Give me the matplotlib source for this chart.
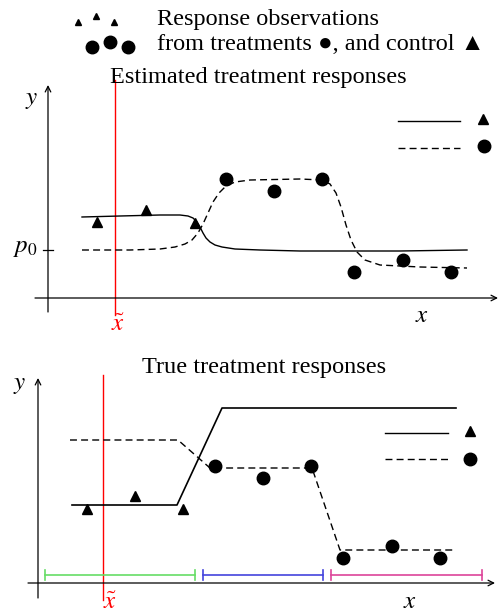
import matplotlib
matplotlib.use("Agg")
import matplotlib.pyplot as plt

plt.rcParams['font.family'] = ['Liberation Serif', 'DejaVu Serif']
plt.rcParams['mathtext.fontset'] = 'stix'

# Top panel (estimated) data, in canvas units
est_tri_x = [97, 146, 195]; est_tri_y = [222, 210, 223]
est_circ_x = [226, 274, 322, 354, 403, 451]; est_circ_y = [179, 191, 179, 272, 260, 272]
est_solid_x = [82, 120, 160, 180, 188, 193, 197, 200, 203, 206, 210, 215, 222, 235, 260, 300, 400, 467]
est_solid_y = [217, 216, 215, 215, 216, 218, 222, 227, 233, 238, 242, 245, 247, 249, 250, 251, 251, 250]
est_dash_x = [82, 130, 160, 175, 185, 192, 198, 203, 208, 213, 219, 226, 235, 250, 300, 322, 330, 336, 341, 346, 351, 357, 365, 380, 420, 467]
est_dash_y = [250, 250, 249, 247, 244, 240, 233, 224, 213, 202, 193, 186, 182, 180, 179, 180, 184, 193, 207, 225, 240, 252, 260, 265, 267, 268]

# Bottom panel (true) data
true_tri_x = [87, 135, 183]; true_tri_y = [509, 496, 509]
true_circ_x = [215, 263, 311, 343, 392, 440]; true_circ_y = [466, 478, 466, 558, 546, 558]
true_solid_x = [72, 177, 222, 456]; true_solid_y = [505, 505, 408, 408]
true_dash_x = [70, 178, 210, 312, 340, 455]; true_dash_y = [440, 440, 468, 468, 550, 550]
intervals = [(45, 195, '#66dd66'), (203, 323, '#4444dd'), (331, 482, '#dd4499')]

fig = plt.figure(figsize=(5.04, 6.13), dpi=100)
ax = fig.add_axes([0, 0, 1, 1])
ax.set_xlim(0, 504); ax.set_ylim(613, 0); ax.axis('off')

def arrow(x0, y0, x1, y1):
    ax.annotate('', xy=(x1, y1), xytext=(x0, y0),
                arrowprops=dict(arrowstyle='->', lw=0.9, color='black', shrinkA=0, shrinkB=0))

tri = dict(marker='^', color='black', ms=7, ls='none')
circ = dict(marker='o', color='black', ms=9, ls='none')

# Header legend
ax.plot([78, 96, 114], [22, 16, 22], marker='^', color='black', ms=5, ls='none')
ax.plot([92, 110, 128], [47, 42, 47], marker='o', color='black', ms=9, ls='none')
ax.text(157, 20, 'Response observations', fontsize=17.5, va='center')
ax.text(157, 44, 'from treatments \u25cf, and control \u25b2', fontsize=17.5, va='center',
        family=['Liberation Serif', 'DejaVu Sans'])

# Top panel
ax.text(258, 77, 'Estimated treatment responses', fontsize=17.5, ha='center', va='center')
arrow(48, 312, 48, 85)
arrow(35, 298, 498, 298)
ax.plot([115, 115], [80, 315], color='red', lw=1)
ax.text(118, 325, r'$\tilde{x}$', color='red', fontsize=18, ha='center', va='center')
ax.text(422, 316, r'$x$', fontsize=18, ha='center', va='center')
ax.text(32, 100, r'$y$', fontsize=18, ha='center', va='center')
ax.plot([43, 53], [250, 250], color='black', lw=0.9)
ax.text(25, 248, r'$p_0$', fontsize=18, ha='center', va='center')
ax.plot(est_solid_x, est_solid_y, color='black', lw=1)
ax.plot(est_dash_x, est_dash_y, color='black', lw=1, ls=(0, (5, 3)))
ax.plot(est_tri_x, est_tri_y, **tri)
ax.plot(est_circ_x, est_circ_y, **circ)
ax.plot([398, 460], [121, 121], color='black', lw=1)
ax.plot([398, 460], [148, 148], color='black', lw=1, ls=(0, (5, 3)))
ax.plot([483], [119], **tri)
ax.plot([484], [146], **circ)

# Bottom panel
ax.text(264, 367, 'True treatment responses', fontsize=17.5, ha='center', va='center')
arrow(38, 598, 38, 378)
arrow(28, 583, 495, 583)
ax.plot([103, 103], [375, 600], color='red', lw=1)
ax.text(110, 603, r'$\tilde{x}$', color='red', fontsize=18, ha='center', va='center')
ax.text(410, 602, r'$x$', fontsize=18, ha='center', va='center')
ax.text(20, 385, r'$y$', fontsize=18, ha='center', va='center')
ax.plot(true_solid_x, true_solid_y, color='black', lw=1.2)
ax.plot(true_dash_x, true_dash_y, color='black', lw=1, ls=(0, (5, 3)))
ax.plot(true_tri_x, true_tri_y, **tri)
ax.plot(true_circ_x, true_circ_y, **circ)
ax.plot([385, 448], [433, 433], color='black', lw=1)
ax.plot([385, 448], [459, 459], color='black', lw=1, ls=(0, (5, 3)))
ax.plot([470], [431], **tri)
ax.plot([470], [459], **circ)
for a, b, c in intervals:
    ax.plot([a, b], [575, 575], color=c, lw=1.2)
    ax.plot([a, a], [570, 580], color=c, lw=1.2)
    ax.plot([b, b], [570, 580], color=c, lw=1.2)

fig.savefig('out.png', dpi=100)
